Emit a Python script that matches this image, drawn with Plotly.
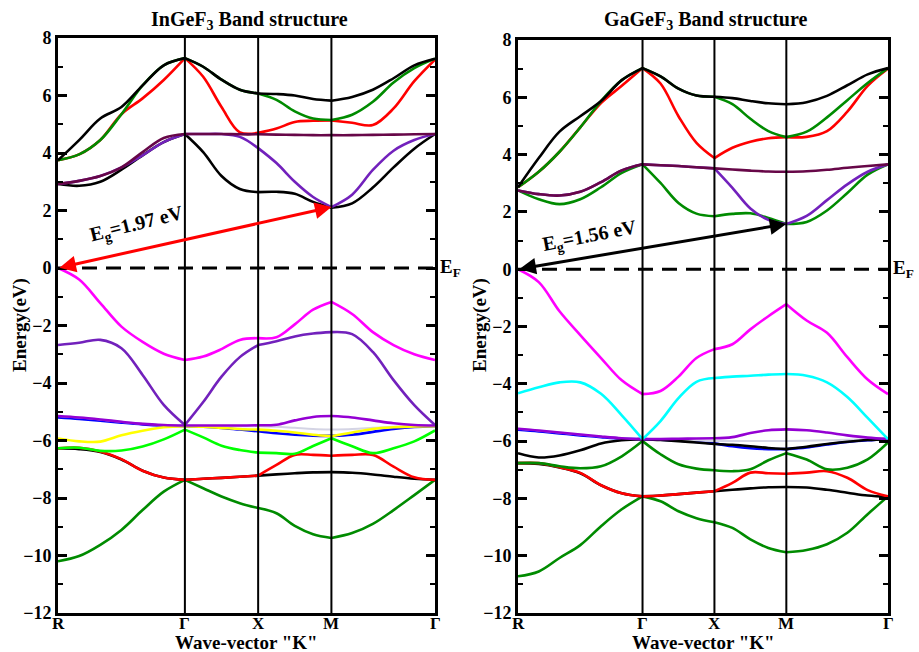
import plotly.graph_objects as go
import numpy as np

# ---------------- k-path ----------------
k_nodes = [0.0, 1.732, 2.732, 3.732, 5.146]
k_labels = ["R", "Γ", "X", "M", "Γ"]

# Each band: four segments R-Γ, Γ-X, X-M, M-Γ (energies in eV)
# ---------------- InGeF3 ----------------
in_cb_red = [[3.75, 3.95, 4.45, 5.35, 5.9, 6.54, 7.3], [7.3, 6.65, 5.6, 4.72, 4.7],
             [4.7, 4.85, 5.08, 5.12, 5.13], [5.13, 5.05, 4.97, 5.55, 6.5, 7.25]]
in_cb_green = [[3.75, 3.95, 4.45, 5.35, 6.35, 7.05, 7.3], [7.3, 7.0, 6.55, 6.2, 6.07],
               [6.07, 5.85, 5.45, 5.2, 5.15], [5.15, 5.33, 5.78, 6.45, 6.95, 7.28]]
in_cb_black = [[3.75, 4.45, 5.2, 5.6, 6.35, 7.05, 7.3], [7.3, 7.0, 6.55, 6.2, 6.07],
               [6.07, 6.05, 6.0, 5.88, 5.82], [5.82, 5.95, 6.2, 6.6, 7.05, 7.28]]
in_cb_black2 = [[2.92, 2.86, 3.0, 3.42, 3.92, 4.38, 4.66], [4.66, 4.03, 3.2, 2.75, 2.64],
                [2.64, 2.65, 2.58, 2.3, 2.1], [2.1, 2.25, 2.8, 3.5, 4.15, 4.66]]
in_cb_indigo = [[2.92, 3.03, 3.2, 3.5, 3.92, 4.38, 4.66], [4.66, 4.66, 4.66, 4.56, 4.17],
                [4.17, 3.65, 3.0, 2.47, 2.12], [2.12, 2.55, 3.41, 4.08, 4.45, 4.66]]
in_cb_maroon = [[2.92, 3.03, 3.2, 3.5, 4.03, 4.52, 4.66], [4.66, 4.66, 4.66, 4.65, 4.65],
                [4.65, 4.64, 4.63, 4.62, 4.62], [4.62, 4.62, 4.63, 4.64, 4.65, 4.66]]
in_vb_magenta = [[0.0, -0.4, -1.22, -2.04, -2.57, -2.98, -3.2], [-3.2, -3.08, -2.82, -2.5, -2.44],
                 [-2.44, -2.41, -1.96, -1.45, -1.18], [-1.18, -1.6, -2.23, -2.68, -3.0, -3.2]]
in_vb_indigo = [[-2.68, -2.6, -2.5, -2.79, -3.72, -4.76, -5.46], [-5.46, -4.66, -3.78, -3.1, -2.68],
                [-2.68, -2.55, -2.38, -2.28, -2.23], [-2.23, -2.3, -2.92, -3.9, -4.77, -5.46]]
in_vb_violet = [[-5.15, -5.2, -5.27, -5.35, -5.42, -5.46, -5.48], [-5.48, -5.48, -5.48, -5.48, -5.47],
                [-5.47, -5.45, -5.3, -5.18, -5.15], [-5.15, -5.2, -5.3, -5.4, -5.46, -5.48]]
in_vb_blue = [[-5.2, -5.25, -5.31, -5.38, -5.44, -5.48, -5.5], [-5.5, -5.52, -5.56, -5.62, -5.68],
              [-5.68, -5.75, -5.8, -5.83, -5.84], [-5.84, -5.8, -5.7, -5.6, -5.53, -5.5]]
in_vb_grey = [[-5.15, -5.2, -5.27, -5.35, -5.42, -5.46, -5.48], [-5.48, -5.49, -5.5, -5.5, -5.5],
              [-5.5, -5.52, -5.56, -5.6, -5.62], [-5.62, -5.6, -5.56, -5.52, -5.5, -5.48]]
in_vb_yellow = [[-5.93, -6.03, -6.04, -5.82, -5.66, -5.54, -5.5], [-5.5, -5.52, -5.56, -5.6, -5.62],
                [-5.62, -5.66, -5.72, -5.8, -5.85], [-5.85, -5.72, -5.6, -5.54, -5.51, -5.5]]
in_vb_lime = [[-6.27, -6.25, -6.36, -6.35, -6.21, -5.96, -5.62], [-5.62, -5.89, -6.18, -6.33, -6.42],
              [-6.42, -6.44, -6.46, -6.19, -5.92], [-5.92, -6.2, -6.44, -6.27, -6.03, -5.65]]
in_vb_black = [[-6.27, -6.3, -6.4, -6.66, -7.05, -7.29, -7.37], [-7.37, -7.33, -7.3, -7.26, -7.22],
               [-7.22, -7.18, -7.14, -7.11, -7.1], [-7.1, -7.12, -7.18, -7.26, -7.33, -7.37]]
in_vb_red = [[-6.27, -6.25, -6.38, -6.65, -7.05, -7.29, -7.37], [-7.37, -7.33, -7.3, -7.26, -7.22],
             [-7.22, -6.85, -6.5, -6.5, -6.53], [-6.53, -6.5, -6.5, -6.91, -7.28, -7.37]]
in_vb_green4 = [[-10.2, -10.02, -9.63, -9.11, -8.42, -7.78, -7.37], [-7.37, -7.66, -7.95, -8.18, -8.35],
                [-8.35, -8.53, -8.97, -9.26, -9.39], [-9.39, -9.22, -8.9, -8.42, -7.9, -7.37]]

# ---------------- GaGeF3 ----------------
ga_cb_red = [[2.86, 3.4, 4.1, 4.95, 5.8, 6.4, 7.02], [7.02, 6.48, 5.34, 4.41, 3.88],
             [3.88, 4.24, 4.45, 4.57, 4.61], [4.61, 4.62, 4.82, 5.5, 6.4, 7.0]]
ga_cb_green = [[2.86, 3.4, 4.1, 4.95, 5.87, 6.6, 7.02], [7.02, 6.73, 6.3, 6.06, 6.02],
               [6.02, 5.76, 5.25, 4.82, 4.61], [4.61, 4.8, 5.3, 5.9, 6.5, 7.02]]
ga_cb_black = [[2.86, 3.88, 4.8, 5.34, 5.87, 6.6, 7.02], [7.02, 6.73, 6.3, 6.06, 6.02],
               [6.02, 5.97, 5.87, 5.79, 5.76], [5.76, 5.83, 6.05, 6.42, 6.8, 7.02]]
ga_cb_green2 = [[2.75, 2.44, 2.27, 2.44, 2.86, 3.36, 3.66], [3.66, 3.01, 2.31, 1.94, 1.85],
                [1.85, 1.93, 1.95, 1.79, 1.58], [1.58, 1.65, 2.05, 2.66, 3.3, 3.66]]
ga_cb_indigo = [[2.75, 2.62, 2.57, 2.7, 3.04, 3.45, 3.66], [3.66, 3.63, 3.6, 3.56, 3.52],
                [3.52, 2.84, 2.12, 1.72, 1.58], [1.58, 1.86, 2.41, 2.96, 3.4, 3.66]]
ga_cb_maroon = [[2.75, 2.62, 2.57, 2.7, 3.04, 3.45, 3.66], [3.66, 3.63, 3.6, 3.56, 3.52],
                [3.52, 3.48, 3.44, 3.41, 3.4], [3.4, 3.42, 3.47, 3.54, 3.6, 3.66]]
ga_vb_magenta = [[0.0, -0.45, -1.47, -2.3, -3.1, -3.88, -4.36], [-4.36, -4.25, -3.75, -3.1, -2.79],
                 [-2.79, -2.62, -2.1, -1.64, -1.22], [-1.22, -1.79, -2.22, -3.07, -3.85, -4.36]]
ga_vb_cyan = [[-4.33, -4.12, -3.95, -3.95, -4.35, -5.1, -5.93], [-5.93, -5.3, -4.5, -3.93, -3.8],
              [-3.8, -3.75, -3.72, -3.68, -3.66], [-3.66, -3.72, -3.95, -4.46, -5.19, -5.93]]
ga_vb_violet = [[-5.57, -5.63, -5.7, -5.77, -5.84, -5.9, -5.93], [-5.93, -5.93, -5.92, -5.91, -5.9],
                [-5.9, -5.86, -5.72, -5.62, -5.59], [-5.59, -5.62, -5.7, -5.8, -5.88, -5.93]]
ga_vb_blue = [[-5.6, -5.66, -5.73, -5.8, -5.86, -5.91, -5.93], [-5.93, -5.95, -5.98, -6.03, -6.08],
              [-6.08, -6.18, -6.25, -6.28, -6.28], [-6.28, -6.22, -6.12, -6.03, -5.97, -5.93]]
ga_vb_grey = [[-5.57, -5.63, -5.7, -5.77, -5.84, -5.9, -5.93], [-5.93, -5.94, -5.96, -5.98, -6.0],
              [-6.0, -6.0, -6.0, -6.0, -6.0], [-6.0, -5.99, -5.97, -5.95, -5.94, -5.93]]
ga_vb_black = [[-6.42, -6.57, -6.5, -6.32, -6.08, -5.97, -5.93], [-5.93, -5.96, -6.0, -6.05, -6.1],
               [-6.1, -6.13, -6.18, -6.24, -6.28], [-6.28, -6.2, -6.1, -6.02, -5.96, -5.93]]
ga_vb_green = [[-6.77, -6.77, -6.88, -6.95, -6.88, -6.53, -6.0], [-6.0, -6.46, -6.81, -6.96, -7.02],
               [-7.02, -7.05, -6.98, -6.67, -6.42], [-6.42, -6.64, -6.98, -6.93, -6.64, -6.05]]
ga_vb_black2 = [[-6.77, -6.8, -6.92, -7.12, -7.54, -7.82, -7.93], [-7.93, -7.9, -7.85, -7.8, -7.75],
                [-7.75, -7.7, -7.65, -7.61, -7.6], [-7.6, -7.62, -7.7, -7.8, -7.9, -7.95]]
ga_vb_red = [[-6.77, -6.77, -6.91, -7.11, -7.54, -7.82, -7.93], [-7.93, -7.9, -7.85, -7.8, -7.75],
             [-7.75, -7.46, -7.1, -7.12, -7.14], [-7.14, -7.1, -7.05, -7.28, -7.71, -7.93]]
ga_vb_green4 = [[-10.72, -10.55, -10.08, -9.63, -8.97, -8.38, -7.93], [-7.93, -8.1, -8.45, -8.69, -8.83],
                [-8.83, -9.03, -9.43, -9.73, -9.88], [-9.88, -9.8, -9.6, -9.2, -8.55, -7.93]]

gaps = ["1.97", "1.56"]
titles = ["InGeF<sub>3</sub> Band structure", "GaGeF<sub>3</sub> Band structure"]

# colours (xmgrace palette)
C = dict(black="#000000", red="#ff0000", green="#00ff00", blue="#0000ff", yellow="#ffff00",
         violet="#9400d3", cyan="#00ffff", magenta="#ff00ff", indigo="#7221bc",
         maroon="#670748", green4="#008b00", grey="#d4d4e4")

left_bands = [
    (in_cb_red, "red"), (in_cb_green, "green4"), (in_cb_black, "black"),
    (in_cb_black2, "black"), (in_cb_indigo, "indigo"), (in_cb_maroon, "maroon"),
    (in_vb_green4, "green4"), (in_vb_black, "black"), (in_vb_red, "red"), (in_vb_lime, "green"),
    (in_vb_blue, "blue"), (in_vb_grey, "grey"), (in_vb_yellow, "yellow"), (in_vb_violet, "violet"),
    (in_vb_indigo, "indigo"), (in_vb_magenta, "magenta"),
]
right_bands = [
    (ga_cb_red, "red"), (ga_cb_green, "green4"), (ga_cb_black, "black"),
    (ga_cb_green2, "green4"), (ga_cb_indigo, "indigo"), (ga_cb_maroon, "maroon"),
    (ga_vb_green4, "green4"), (ga_vb_black2, "black"), (ga_vb_red, "red"), (ga_vb_green, "green4"),
    (ga_vb_blue, "blue"), (ga_vb_grey, "grey"), (ga_vb_black, "black"), (ga_vb_violet, "violet"),
    (ga_vb_cyan, "cyan"), (ga_vb_magenta, "magenta"),
]


def band_xy(segs):
    xs, ys = [], []
    for i, seg in enumerate(segs):
        kx = np.linspace(k_nodes[i], k_nodes[i + 1], len(seg))
        xs += list(kx) + [None]
        ys += list(seg) + [None]
    return xs, ys


fig = go.Figure()
for axis_i, bands in enumerate([left_bands, right_bands]):
    xa = "x" if axis_i == 0 else "x2"
    ya = "y" if axis_i == 0 else "y2"
    for segs, col in bands:
        xs, ys = band_xy(segs)
        fig.add_trace(go.Scatter(x=xs, y=ys, mode="lines", xaxis=xa, yaxis=ya,
                                 line=dict(color=C[col], width=2.6 if col != "grey" else 2,
                                           shape="spline", smoothing=1.0),
                                 showlegend=False, hoverinfo="skip"))

W, H = 919, 652
dom_x = [[58 / W, 435 / W], [518 / W, 888 / W]]
dom_y = [[(H - 613) / H, (H - 38) / H], [(H - 613) / H, (H - 40) / H]]
font_fam = "Liberation Serif"

layout = dict(width=W, height=H, margin=dict(l=0, r=0, t=0, b=0, autoexpand=False),
              paper_bgcolor="white", plot_bgcolor="white",
              font=dict(family=font_fam, color="black", size=16))
for i in range(2):
    sx = "" if i == 0 else "2"
    layout["xaxis" + sx] = dict(domain=dom_x[i], range=[k_nodes[0], k_nodes[-1]], anchor="y" + sx,
                               automargin=False, showticklabels=False, ticks="", showgrid=False,
                               zeroline=False, showline=True, linewidth=3, linecolor="black",
                               mirror=True)
    layout["yaxis" + sx] = dict(domain=dom_y[i], range=[-12, 8], anchor="x" + sx, dtick=2, tick0=0,
                               automargin=False,
                               ticks="inside", ticklen=9, tickwidth=3, tickcolor="black",
                               minor=dict(dtick=1, ticks="inside", ticklen=5, tickwidth=2,
                                          tickcolor="black"),
                               showgrid=False, zeroline=False, showline=True, linewidth=3,
                               linecolor="black", mirror="allticks",
                               tickfont=dict(size=18, weight="bold"))
fig.update_layout(**layout)

shapes = []
annotations = []
cbm_vals = [in_cb_indigo[2][-1], ga_cb_indigo[2][-1]]
arrow_cols = ["#ff0000", "#000000"]
eg_pos = [(1.08, 1.5, -14), (1.0, 1.15, -11)]
for i in range(2):
    sx = "" if i == 0 else "2"
    for kv in k_nodes[1:4]:
        shapes.append(dict(type="line", xref="x" + sx, yref="y" + sx + " domain", x0=kv, x1=kv,
                           y0=0, y1=1, line=dict(color="black", width=2), layer="above"))
    shapes.append(dict(type="line", xref="x" + sx + " domain", yref="y" + sx, x0=0, x1=1, y0=0, y1=0,
                       line=dict(color="black", width=3, dash="15px,9px"), layer="above"))
    # k-point labels
    for kv, lab in zip(k_nodes, k_labels):
        annotations.append(dict(text="<b>" + lab + "</b>", xref="x" + sx, yref="paper",
                                x=kv, y=1 - 623 / H, showarrow=False, font=dict(size=17),
                                xanchor="center", yanchor="middle", height=17))
    # title
    annotations.append(dict(text="<b>" + titles[i] + "</b>", xref="paper", yref="paper",
                            x=(dom_x[i][0] + dom_x[i][1]) / 2 + 0.003, y=1 - 20 / H, showarrow=False,
                            font=dict(size=20), xanchor="center", yanchor="middle"))
    # y title
    annotations.append(dict(text="<b>Energy(eV)</b>", xref="paper", yref="paper",
                            x=dom_x[i][0] - 38 / W, y=1 - 325 / H, textangle=-90, showarrow=False,
                            font=dict(size=19), xanchor="center", yanchor="middle"))
    # x title
    annotations.append(dict(text='<b>Wave-vector "K"</b>', xref="paper", yref="paper",
                            x=(dom_x[i][0] + dom_x[i][1]) / 2, y=1 - 642 / H, showarrow=False,
                            font=dict(size=19), xanchor="center", yanchor="middle", height=18))
    # E_F
    annotations.append(dict(text="<b>E<sub>F</sub></b>", xref="paper", yref="y" + sx,
                            x=dom_x[i][1] + 3 / W, y=0, showarrow=False, font=dict(size=19),
                            xanchor="left", yanchor="middle"))
    # gap arrow
    annotations.append(dict(x=k_nodes[3], y=cbm_vals[i], ax=k_nodes[0], ay=0.0,
                            xref="x" + sx, yref="y" + sx, axref="x" + sx, ayref="y" + sx,
                            text="", showarrow=True, arrowhead=2, startarrowhead=2,
                            arrowside="end+start", arrowwidth=3, arrowsize=1.1, startarrowsize=1.1,
                            arrowcolor=arrow_cols[i], standoff=0, startstandoff=0))
    ex, ey, ang = eg_pos[i]
    annotations.append(dict(x=ex, y=ey, xref="x" + sx, yref="y" + sx, showarrow=False,
                            text="<b>E<sub>g</sub>=" + gaps[i] + " eV</b>", textangle=ang,
                            font=dict(size=20), xanchor="center", yanchor="middle"))

fig.update_layout(shapes=shapes, annotations=annotations)
fig.write_html("out.html", config={"displayModeBar": False},
               post_script="document.body.style.margin='0px';")
